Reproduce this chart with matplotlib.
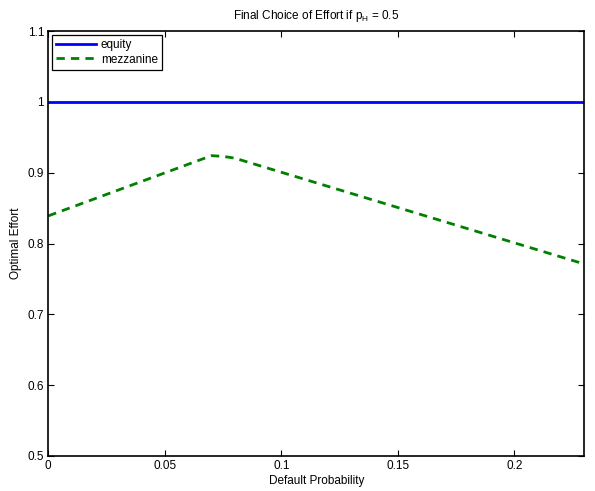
import matplotlib
matplotlib.use('Agg')
import matplotlib.pyplot as plt
from matplotlib.ticker import FormatStrFormatter

plt.rcParams['font.family'] = ['Liberation Sans', 'DejaVu Sans']
plt.rcParams['mathtext.fontset'] = 'custom'
plt.rcParams['mathtext.rm'] = 'Liberation Sans'

# data
equity_x = [0, 0.23]
equity_y = [1.0, 1.0]
mezz_x = [0, 0.07, 0.075, 0.08, 0.23]
mezz_y = [0.839, 0.924, 0.923, 0.9205, 0.771]

x_ticks = [0, 0.05, 0.1, 0.15, 0.2]
y_ticks = [0.5, 0.6, 0.7, 0.8, 0.9, 1.0, 1.1]

fig = plt.figure(figsize=(5.95, 4.91), dpi=100)
ax = fig.add_axes([48.3 / 595, 1 - 456 / 491, (584.4 - 48.3) / 595, (456 - 31) / 491])

ax.plot(equity_x, equity_y, color='#0000ff', lw=2, label='equity')
ax.plot(mezz_x, mezz_y, color='#008000', lw=2, ls=(0, (3, 2.2)), label='mezzanine')

ax.set_xlim(0, 0.23)
ax.set_ylim(0.5, 1.1)
ax.set_xticks(x_ticks)
ax.set_yticks(y_ticks)
ax.xaxis.set_major_formatter(FormatStrFormatter('%g'))
ax.yaxis.set_major_formatter(FormatStrFormatter('%g'))
ax.tick_params(direction='in', top=True, right=True, length=4, width=0.8,
               labelsize=8.5, pad=3)
for s in ax.spines.values():
    s.set_linewidth(1.2)

ax.set_xlabel('Default Probability', fontsize=8.5, labelpad=2)
ax.set_ylabel('Optimal Effort', fontsize=8.5, labelpad=4)
ax.set_title('Final Choice of Effort if $\\mathregular{p_{H}}$ = 0.5', fontsize=8.5, pad=9)

leg = ax.legend(loc='upper left', fontsize=8.5, fancybox=False, framealpha=1,
                edgecolor='black', borderaxespad=0.3, handlelength=3.4,
                borderpad=0.35, labelspacing=0.25, handletextpad=0.4)
leg.get_frame().set_linewidth(0.9)

fig.savefig('out.png', dpi=100)
